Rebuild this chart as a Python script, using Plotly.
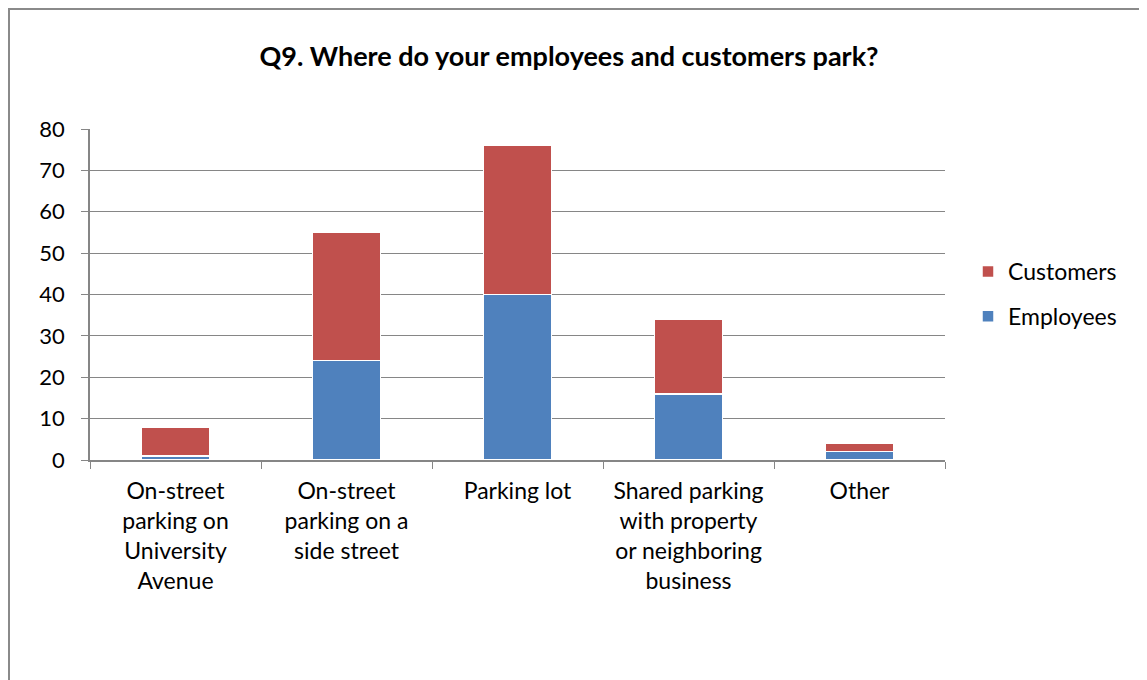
import plotly.graph_objects as go

categories = [
    "On-street<br>parking on<br>University<br>Avenue",
    "On-street<br>parking on a<br>side street",
    "Parking lot",
    "Shared parking<br>with property<br>or neighboring<br>business",
    "Other",
]
employees = [1, 24, 40, 16, 2]
customers = [7, 31, 36, 18, 2]
y_ticks = [0, 10, 20, 30, 40, 50, 60, 70, 80]
title = "Q9. Where do your employees and customers park?"

# page body has an 8px margin; work in figure coordinates
OFF = 8
W, H = 1147 - OFF, 680 - OFF
L, R, T, B = 90 - OFF, 945 - OFF, 129 - OFF, 460 - OFF

font = "Lato, Carlito, Calibri, sans-serif"

fig = go.Figure()
fig.add_trace(go.Bar(
    x=categories, y=employees, name="Employees", legendgroup="e", legendrank=2,
    marker=dict(color="#4F81BD", line=dict(color="white", width=1.5)),
    width=0.4,
))
fig.add_trace(go.Bar(
    x=categories, y=customers, name="Customers", legendgroup="c", legendrank=1,
    marker=dict(color="#C0504D", line=dict(color="white", width=1.5)),
    width=0.4,
))

def px_x(p):
    return (p - OFF - L) / (R - L)

def px_y(p):
    return (B - (p - OFF)) / (B - T)

fig.update_layout(
    width=W, height=H,
    barmode="stack",
    paper_bgcolor="white", plot_bgcolor="white",
    margin=dict(l=L, r=W - R, t=T, b=H - B, pad=0),
    font=dict(family=font, size=22, color="black"),
    title=dict(text="<b>" + title + "</b>", x=px_x(569), xref="paper", xanchor="center",
               y=1 - (57 - OFF) / H, yanchor="middle", font=dict(size=27, family=font)),
    showlegend=True,
    legend=dict(traceorder="grouped", x=px_x(968), xanchor="left", y=px_y(294), yanchor="middle",
                font=dict(size=23, family=font), itemwidth=30, tracegroupgap=12,
                bgcolor="rgba(0,0,0,0)"),
    bargap=0.6,
    xaxis=dict(
        type="category", showline=True, linecolor="#868686", linewidth=1.5,
        ticks="outside", ticklen=7, tickcolor="#868686", tickson="boundaries",
        showgrid=False, tickfont=dict(size=23, family=font), ticklabelstandoff=10,
    ),
    yaxis=dict(
        range=[0, 80], tickvals=y_ticks, showline=True, linecolor="#868686", linewidth=1.5,
        ticks="outside", ticklen=7, tickcolor="#868686",
        showgrid=True, gridcolor="#868686", gridwidth=1, zeroline=False,
        tickfont=dict(size=22, family=font), ticklabelstandoff=12,
    ),
    shapes=[dict(type="rect", xref="paper", yref="paper",
                 x0=px_x(OFF + 1), x1=px_x(1160), y0=px_y(700), y1=px_y(OFF + 1),
                 line=dict(color="#8a8a8a", width=2), layer="below")],
)

fig.write_html("out.html")
